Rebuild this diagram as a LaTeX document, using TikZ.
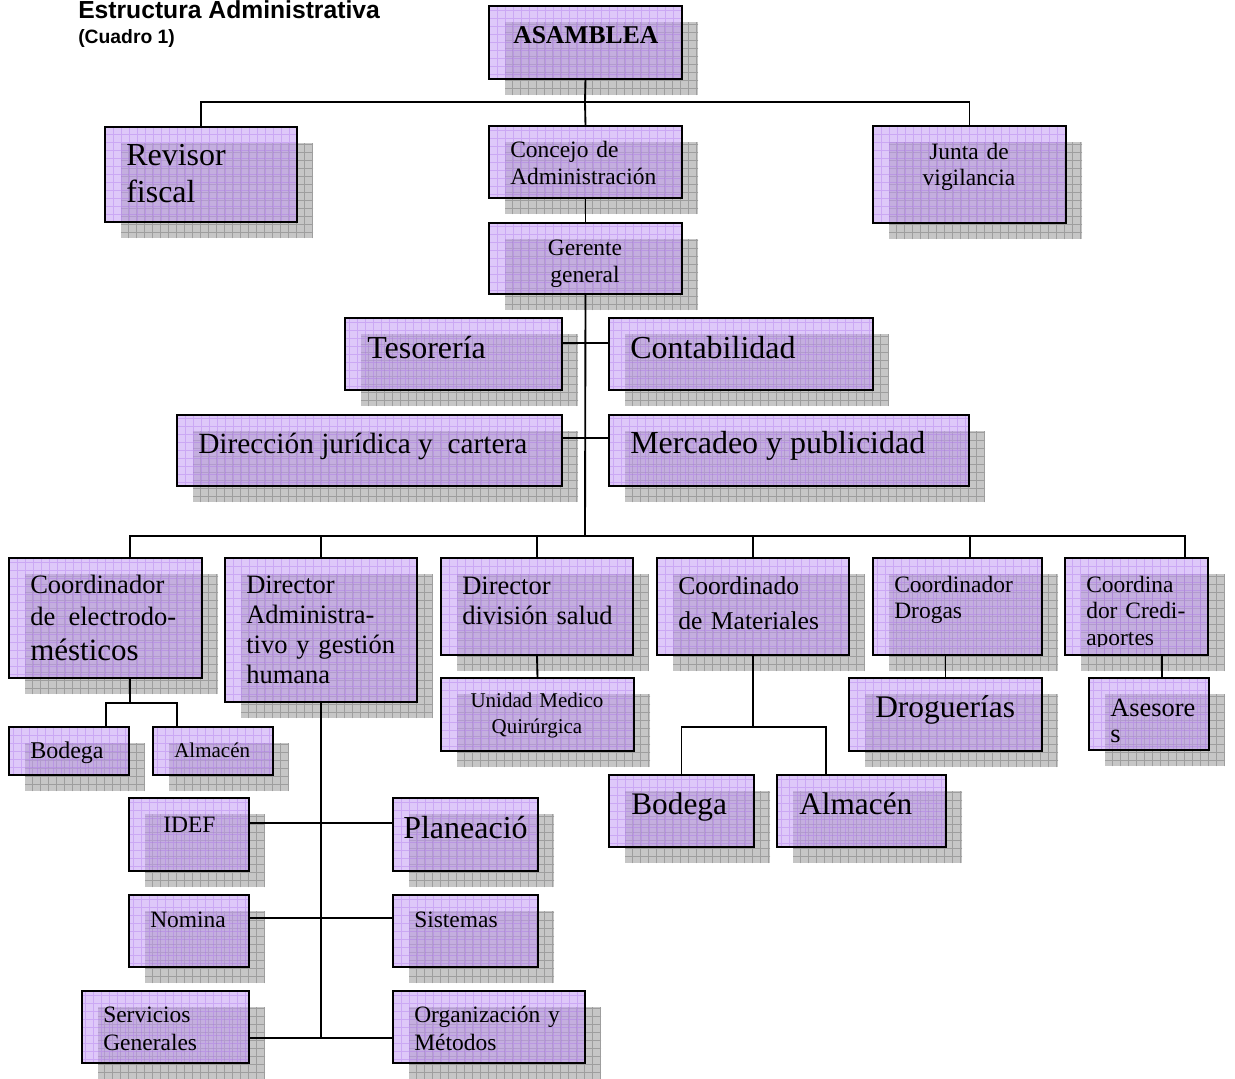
\documentclass[tikz,border=0pt]{standalone}
\usepackage{fontspec}
\setmainfont{Liberation Serif}
\newfontfamily\titulo{Liberation Sans}
\usetikzlibrary{calc}

\definecolor{lila}{RGB}{195,155,245}
\definecolor{lilaraya}{RGB}{170,110,235}
\definecolor{sombra}{RGB}{198,198,198}
\definecolor{sombraraya}{RGB}{158,158,158}

\newcommand\fs[2]{\fontsize{#1}{#2}\selectfont}

\tikzset{
  caja/.style={draw=black, line width=1.5pt, fill=lila, fill opacity=0.55,
    anchor=north west, inner sep=0pt, outer sep=0pt,
    path picture={\draw[lilaraya, line width=0.4pt, draw opacity=0.35]
      (path picture bounding box.south west) grid[step=6pt] (path picture bounding box.north east);}},
  linea/.style={line width=1.4pt},
  txt/.style={anchor=base west, inner sep=0pt},
  txtc/.style={anchor=base, inner sep=0pt, align=center, text width=150pt},
  txtl/.style={anchor=base west, inner sep=0pt, align=left, text width=180pt},
}

% caja con sombra: nombre, x, y, ancho, alto (en px)
\newcommand\orgcaja[5]{%
  \fill[sombra] (#2+16,#3+16) rectangle (#2+16+#4,#3+16+#5);
  \draw[sombraraya, line width=0.4pt] (#2+16,#3+16) grid[step=6pt] (#2+16+#4,#3+16+#5);
  \node[caja, minimum width=#4*0.75pt, minimum height=#5*0.75pt] (#1) at (#2,#3) {};
}

\begin{document}
\begin{tikzpicture}[x=0.75pt, y=-0.75pt, line cap=rect, line join=miter]
  \useasboundingbox[fill=white] (0,0) rectangle (1235,1078);

  % titulo
  \node[txt, font={\titulo\bfseries\fs{18.5}{22}}] (tit) at (78,18) {Estructura Administrativa};
  \node[txt, font={\titulo\bfseries\fs{14.5}{17}}] (sub) at (78,43) {(Cuadro 1)};

  % cajas
  \orgcaja{asa}{489}{6}{193}{73}
  \orgcaja{rev}{105}{127}{192}{95}
  \orgcaja{con}{489}{126}{193}{72}
  \orgcaja{jun}{873}{126}{193}{97}
  \orgcaja{ger}{489}{223}{193}{71}
  \orgcaja{tes}{345}{318}{217}{72}
  \orgcaja{cnt}{609}{318}{264}{72}
  \orgcaja{dir}{177}{415}{385}{71}
  \orgcaja{mer}{609}{415}{360}{71}
  \orgcaja{ce}{9}{558}{193}{120}
  \orgcaja{da}{225}{558}{192}{144}
  \orgcaja{ds}{441}{558}{192}{97}
  \orgcaja{cm}{657}{558}{192}{97}
  \orgcaja{cd}{873}{558}{169}{97}
  \orgcaja{cc}{1065}{558}{143}{97}
  \orgcaja{bo1}{9}{727}{120}{48}
  \orgcaja{al1}{153}{727}{120}{48}
  \orgcaja{umq}{441}{678}{193}{73}
  \orgcaja{dro}{849}{678}{193}{73}
  \orgcaja{ase}{1089}{678}{120}{72}
  \orgcaja{bo2}{609}{775}{145}{72}
  \orgcaja{al2}{777}{775}{169}{72}
  \orgcaja{idf}{129}{798}{120}{73}
  \orgcaja{pla}{393}{798}{145}{73}
  \orgcaja{nom}{129}{895}{120}{72}
  \orgcaja{sis}{393}{895}{145}{72}
  \orgcaja{ser}{82}{991}{167}{72}
  \orgcaja{org}{393}{991}{192}{72}

  % conectores
  \coordinate (b1) at (585,102);
  \coordinate (b2) at (585,536);
  \coordinate (r1) at (585,343);
  \coordinate (r2) at (585,438);
  \draw[linea] (asa.south) -- (b1) -- (con.north);
  \draw[linea] (rev.north) |- (b1) -| (jun.north);
  \draw[linea] (con.south) -- (ger.north);
  \draw[linea] (ger.south) -- (b2);
  \draw[linea] (tes.east |- r1) -- (cnt.west |- r1);
  \draw[linea] (dir.east |- r2) -- (mer.west |- r2);

  \coordinate (d1) at (130,536);
  \coordinate (d5) at (970,536);
  \coordinate (d6) at (1185,536);
  \draw[linea] (d1) -- (d6);
  \draw[linea] (d1) -- (d1 |- ce.north);
  \draw[linea] (da.north) -- (da.north |- b2);
  \draw[linea] (ds.north) -- (ds.north |- b2);
  \draw[linea] (cm.north) -- (cm.north |- b2);
  \draw[linea] (d5) -- (d5 |- cd.north);
  \draw[linea] (d6) -- (d6 |- cc.north);

  % electrodomesticos
  \coordinate (e1) at (130,703);
  \coordinate (e2) at (106,703);
  \coordinate (e3) at (177,703);
  \draw[linea] (e1 |- ce.south) -- (e1);
  \draw[linea] (e2 |- bo1.north) -- (e2) -- (e3) -- (e3 |- al1.north);

  \draw[linea] (ds.south) -- (umq.north);

  % materiales
  \coordinate (m3) at (826,727);
  \draw[linea] (cm.south) -- (cm.south |- m3);
  \draw[linea] (bo2.north) |- (m3) -- (m3 |- al2.north);

  \draw[linea] (dro.north) -- (dro.north |- cd.south);
  \coordinate (a1) at (1162,667);
  \draw[linea] (a1 |- cc.south) -- (a1 |- ase.north);

  % gestion humana
  \coordinate (h1) at (321,823);
  \coordinate (h2) at (321,918);
  \coordinate (h3) at (321,1038);
  \draw[linea] (da.south) -- (h3);
  \draw[linea] (idf.east |- h1) -- (pla.west |- h1);
  \draw[linea] (nom.east |- h2) -- (sis.west |- h2);
  \draw[linea] (ser.east |- h3) -- (org.west |- h3);

  % textos
  \node[txt, font={\bfseries\fs{19.2}{23}}] (asa-t) at (513,43) {ASAMBLEA};
  \node[txtl, font=\fs{24}{27.75}] (rev-t) at (126,165) {Revisor\\fiscal};
  \node[txtl, font=\fs{17.6}{20.5}] (con-t) at (510,157) {Concejo de\\Administración};
  \node[txtc, font=\fs{17.6}{19.5}] (jun-t) at (969,159) {Junta de\\vigilancia};
  \node[txtc, font=\fs{17.6}{20.25}] (ger-t) at (585,255) {Gerente\\general};
  \node[txt, font=\fs{24}{28}] (tes-t) at (367,358) {Tesorería};
  \node[txt, font=\fs{24}{28}] (cnt-t) at (630,358) {Contabilidad};
  \node[txt, font=\fs{22}{26}] (dir-t) at (198,453) {Dirección jurídica y\ \ cartera};
  \node[txt, font=\fs{24}{28}] (mer-t) at (630,453) {Mercadeo y publicidad};
  \node[txt, font=\fs{19.9}{23}] (ce-t1) at (30,593) {Coordinador};
  \node[txt, font=\fs{19.9}{23}] (ce-t2) at (30,625) {de\ \ electrodo-};
  \node[txt, font=\fs{23.25}{27}] (ce-t3) at (30,660) {mésticos};
  \node[txtl, font=\fs{19.9}{22.5}] (da-t) at (246,593) {Director\\Administra-\\tivo y gestión\\humana};
  \node[txtl, font=\fs{19.9}{22.5}] (ds-t) at (462,594) {Director\\división salud};
  \node[txtl, font=\fs{19.2}{26.25}] (cm-t) at (678,594) {Coordinado\\de Materiales};
  \node[txtl, font=\fs{17.6}{19.5}] (cd-t) at (894,592) {Coordinador\\Drogas};
  \begin{scope}
    \clip (1065,558) rectangle (1208,646);
    \node[txtl, font=\fs{17.6}{19.9}] (cc-t) at (1086,592) {Coordina\\dor Credi-\\aportes};
  \end{scope}
  \node[txt, font=\fs{18}{21}] (bo1-t) at (30,758) {Bodega};
  \node[txt, font=\fs{15.75}{19}] (al1-t) at (174,757) {Almacén};
  \node[txtc, font=\fs{15.75}{19.5}] (umq-t) at (537,707) {Unidad Medico\\Quirúrgica};
  \node[txt, font=\fs{23.6}{28}] (dro-t) at (875,717) {Droguerías};
  \node[txtl, font=\fs{19.8}{19.5}] (ase-t) at (1110,716) {Asesore\\s};
  \node[txt, font=\fs{23.5}{28}] (bo2-t) at (631,814) {Bodega};
  \node[txt, font=\fs{23.5}{28}] (al2-t) at (799,814) {Almacén};
  \node[txt, font=\fs{17.6}{21}] (idf-t) at (163,832) {IDEF};
  \node[txt, font=\fs{24}{28}] (pla-t) at (403,838) {Planeació};
  \node[txt, font=\fs{17.6}{21}] (nom-t) at (150,927) {Nomina};
  \node[txt, font=\fs{17.6}{21}] (sis-t) at (414,927) {Sistemas};
  \node[txtl, font=\fs{17.6}{21}] (ser-t) at (103,1022) {Servicios\\Generales};
  \node[txtl, font=\fs{17.6}{21}] (org-t) at (414,1022) {Organización y\\Métodos};
\end{tikzpicture}
\end{document}
